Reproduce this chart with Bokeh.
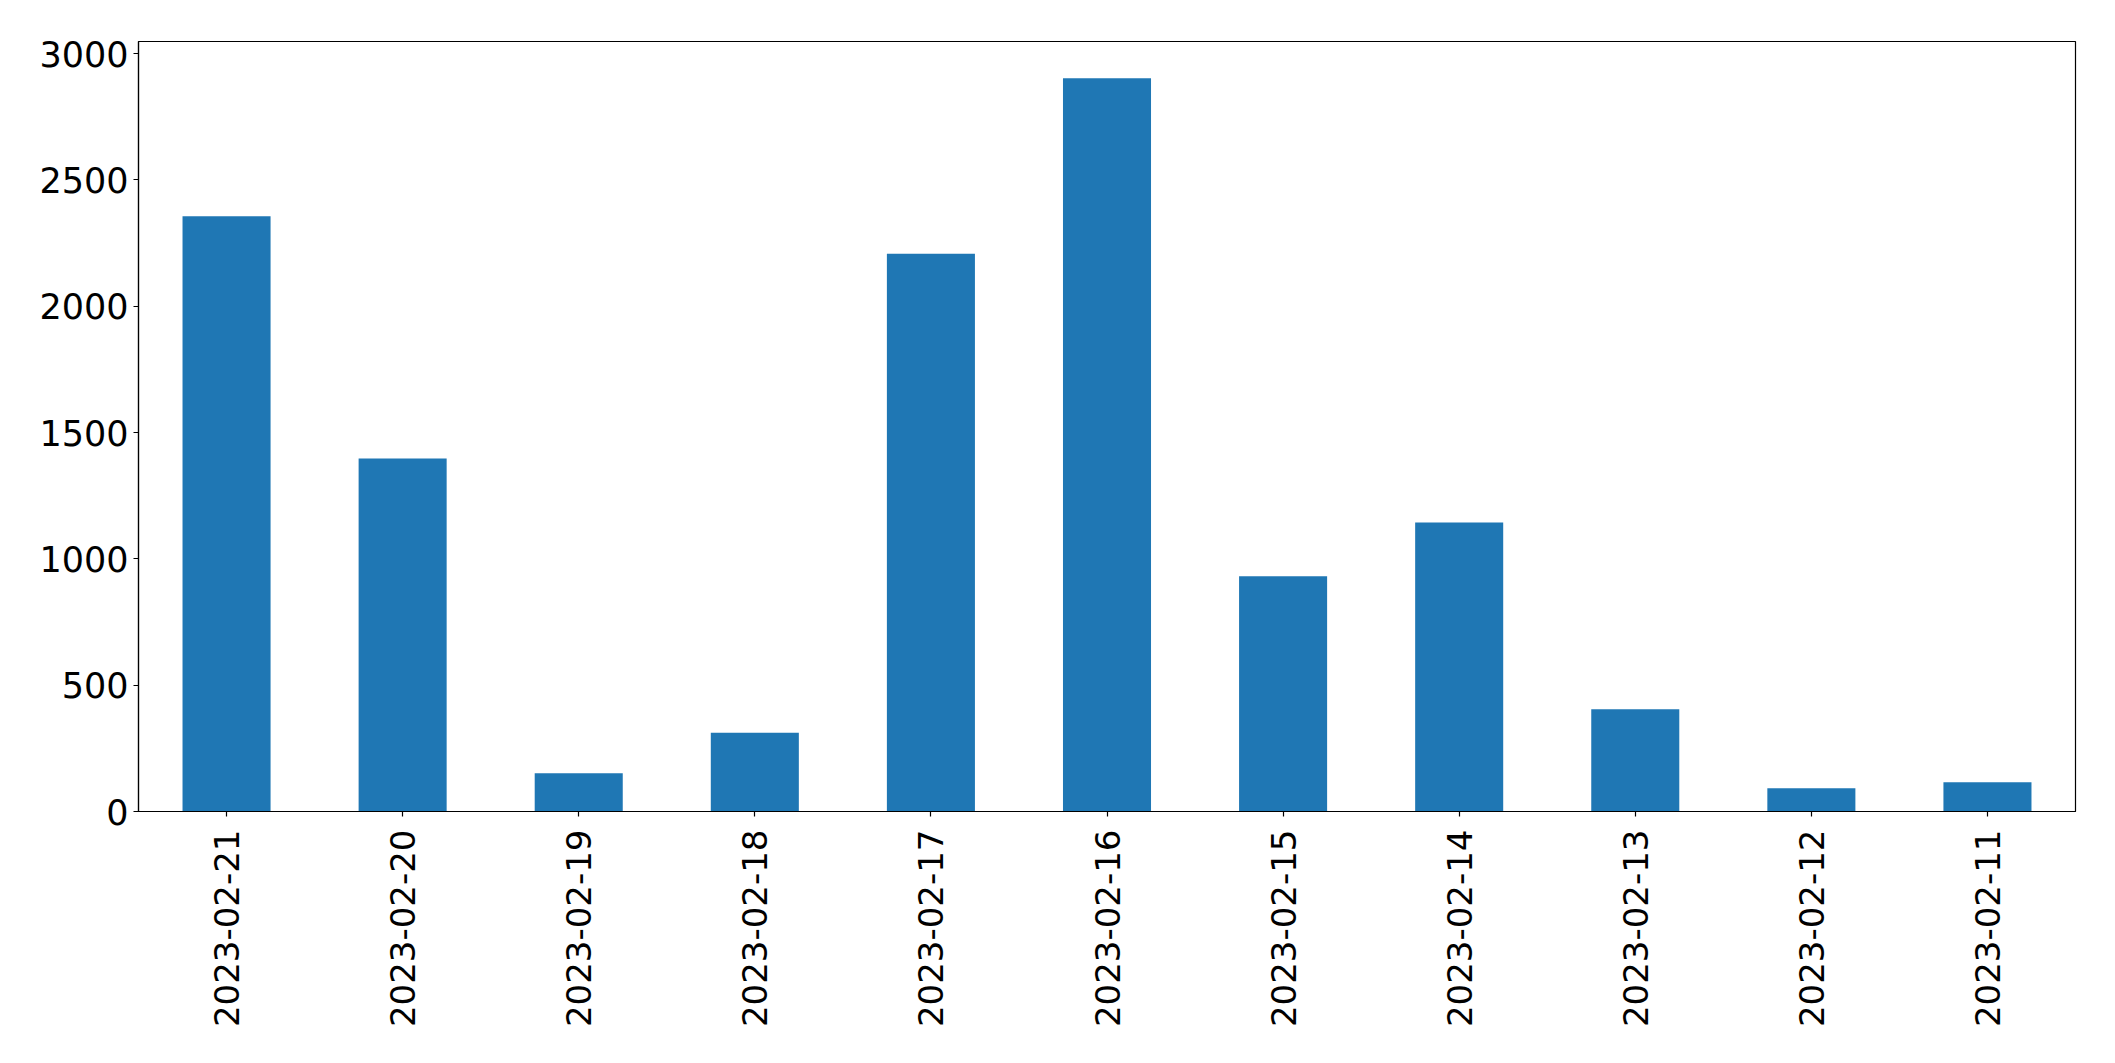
import math
from bokeh.plotting import figure
from bokeh.models import FactorRange, Range1d, FixedTicker, ColumnDataSource
from bokeh.embed import file_html
from bokeh.resources import INLINE

dates = ["2023-02-21", "2023-02-20", "2023-02-19", "2023-02-18", "2023-02-17",
         "2023-02-16", "2023-02-15", "2023-02-14", "2023-02-13", "2023-02-12",
         "2023-02-11"]
counts = [2356, 1397, 151, 312, 2208, 2903, 931, 1144, 405, 92, 116]
y_ticks = [0, 500, 1000, 1500, 2000, 2500, 3000]

source = ColumnDataSource(data=dict(date=dates, count=counts))

p = figure(
    x_range=FactorRange(factors=dates),
    y_range=Range1d(0, max(counts) * 1.05),
    frame_width=1937, frame_height=770,
    min_border_left=138, min_border_top=41, min_border_right=20, min_border_bottom=225,
    output_backend="svg", toolbar_location=None,
)

p.vbar(x="date", top="count", width=0.5, source=source,
       fill_color="#1f77b4", line_color=None)

p.xgrid.visible = False
p.ygrid.visible = False
p.outline_line_color = "black"
p.outline_line_width = 1.2
p.outline_line_alpha = 1.0

for ax in (p.xaxis, p.yaxis):
    ax.axis_line_color = "black"
    ax.axis_line_width = 1.2
    ax.major_tick_line_color = "black"
    ax.major_tick_line_width = 1.2
    ax.major_tick_out = 5
    ax.major_tick_in = 0
    ax.minor_tick_line_color = None
    ax.major_label_text_font = "DejaVu Sans"
    ax.major_label_text_color = "black"

p.yaxis.major_label_text_font_size = "35px"
p.xaxis.major_label_text_font_size = "34px"
p.yaxis.ticker = FixedTicker(ticks=y_ticks)
p.yaxis.major_label_standoff = 5
p.xaxis.major_label_orientation = math.pi / 2
p.xaxis.major_label_standoff = 13

open("out.html", "w").write(file_html(p, INLINE))
